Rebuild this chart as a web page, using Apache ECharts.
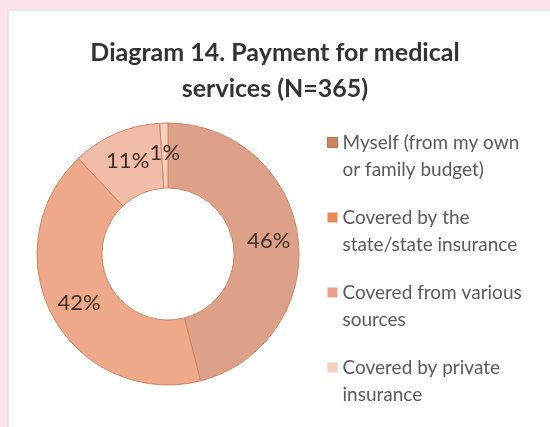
<!DOCTYPE html>
<html>
<head>
<meta charset="utf-8">
<script src="https://cdn.jsdelivr.net/npm/echarts@6/dist/echarts.min.js"></script>
<style>
  html, body { margin: 0; padding: 0; background: #fde4ea; }
  #chart { width: 550px; height: 427px; }
</style>
</head>
<body>
<div id="chart"></div>
<script>
// Who paid for medical services, share of respondents (%)
const categories = [
  'Myself (from my own\nor family budget)',
  'Covered by the\nstate/state insurance',
  'Covered from various\nsources',
  'Covered by private\ninsurance'
];
const shares = [46, 42, 11, 1];
const sliceColors = ['#dda088', '#eda98a', '#f2bda8', '#f6cfc0'];
const markerColors = ['#cd8466', '#e8895a', '#ec9d8c', '#f5cdc1'];

const chart = echarts.init(document.getElementById('chart'));
chart.setOption({
  backgroundColor: '#fde4ea',
  animation: false,
  graphic: [{
    type: 'rect',
    shape: { x: 8, y: 10, width: 560, height: 430 },
    style: { fill: '#ffffff', stroke: '#e4e4e4', lineWidth: 1.5 },
    z: -10
  }],
  title: {
    text: 'Diagram 14. Payment for medical\nservices (N=365)',
    left: 'center',
    top: 30,
    textStyle: {
      fontFamily: 'Lato',
      fontWeight: 'bold',
      fontSize: 25,
      lineHeight: 36,
      color: '#333333'
    }
  },
  legend: {
    orient: 'vertical',
    left: 322,
    top: 97,
    itemWidth: 10,
    itemHeight: 10,
    itemGap: -6,
    selectedMode: false,
    icon: 'rect',
    // leading blank line keeps the marker beside the first text line
    formatter: name => '\n' + name,
    data: categories.map((name, i) => ({
      name,
      itemStyle: { color: markerColors[i], borderColor: '#b87252', borderWidth: i === 0 ? 1 : 0 }
    })),
    textStyle: {
      fontFamily: 'Lato',
      fontSize: 19,
      lineHeight: 27,
      color: '#5a5a5a'
    }
  },
  series: [{
    type: 'pie',
    center: [168, 254],
    radius: [66, 131],
    startAngle: 90,
    clockwise: true,
    avoidLabelOverlap: false,
    itemStyle: { borderColor: '#d18663', borderWidth: 1 },
    label: {
      show: true,
      position: 'inside',
      formatter: '{c}%',
      fontFamily: 'Lato',
      fontSize: 22,
      color: '#3f302a'
    },
    labelLine: { show: false },
    emphasis: { disabled: true },
    data: categories.map((name, i) => ({
      name,
      value: shares[i],
      itemStyle: { color: sliceColors[i] }
    }))
  }]
});
</script>
</body>
</html>
